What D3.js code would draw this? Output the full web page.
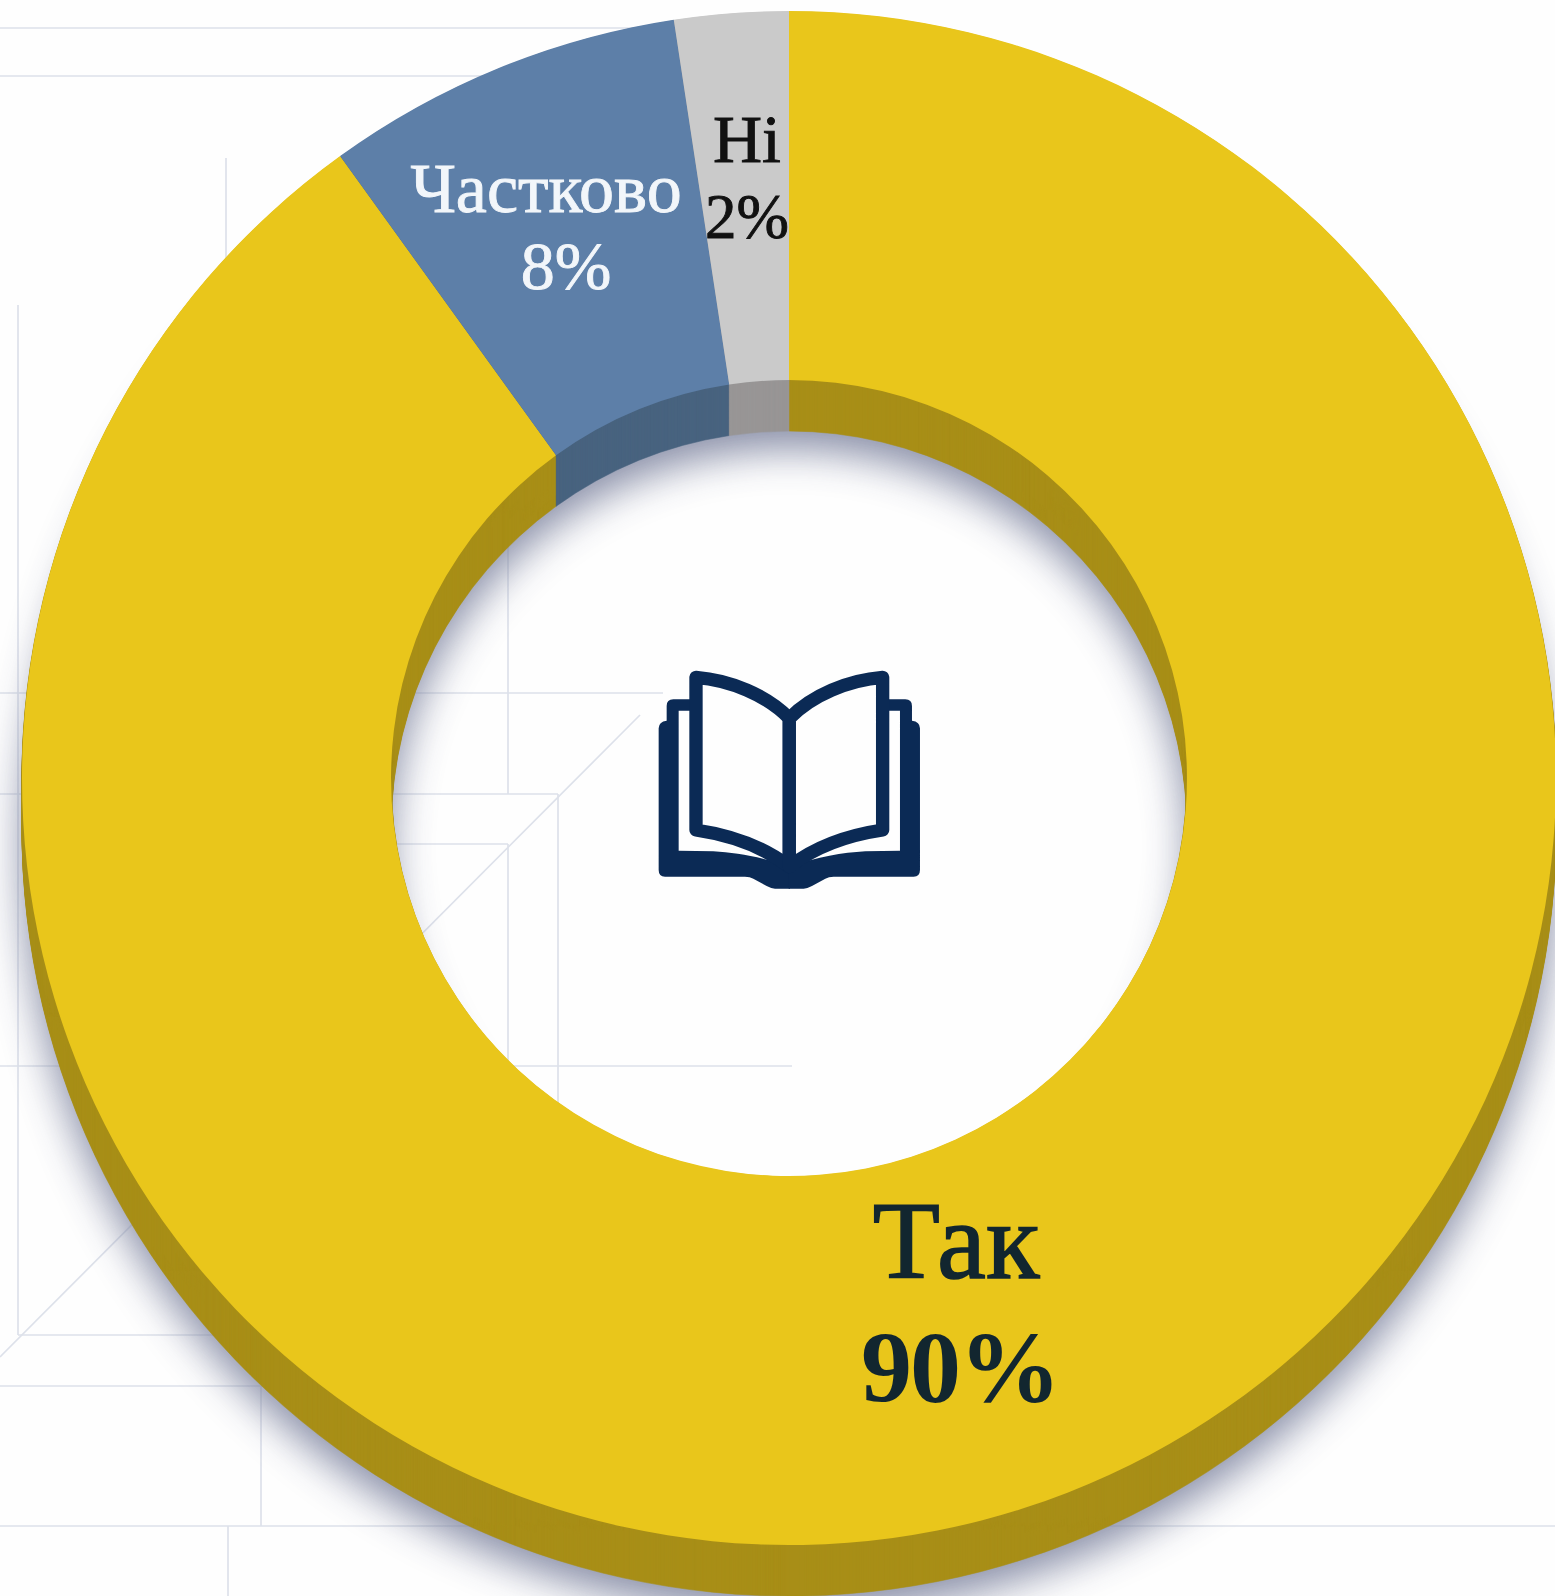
<!DOCTYPE html>
<html>
<head>
<meta charset="utf-8">
<script src="https://d3js.org/d3.v7.min.js"></script>
<style>
  html, body { margin: 0; padding: 0; background: #fff; overflow: hidden; }
  svg { display: block; }
  text { font-family: "Liberation Serif", serif; text-anchor: middle; }
</style>
</head>
<body>
<svg id="chart" width="1555" height="1596"></svg>
<script>
// data (slice sizes from the angles, labels are rounded)
var categories = ["Так", "Частково", "Ні"];
var values = [90.05, 7.55, 2.4];

// colours
var topColors = ["#e9c61b", "#5d7fa8", "#cacaca"];
var sideColors = ["#a88e17", "#48637f", "#989696"];
var labelColors = ["#12262f", "#f2f6fa", "#111111"];

var width = 1555,
  height = 1596,
  cx = 789,
  cy = 778,
  outerR = 767,
  innerR = 398,
  depth = 51;

var svg = d3.select("#chart");

svg.append("rect").attr("width", width).attr("height", height).attr("fill", "#fefefe");

// soft shadow under the ring
var defs = svg.append("defs");
defs
  .append("filter")
  .attr("id", "soft")
  .attr("x", "-10%")
  .attr("y", "-10%")
  .attr("width", "120%")
  .attr("height", "120%")
  .append("feGaussianBlur")
  .attr("stdDeviation", 20);

// faint construction lines behind the chart
var bgLines = [
  [0, 28, 700, 28],
  [0, 76, 700, 76],
  [0, 693, 663, 693],
  [0, 794, 558, 794],
  [300, 844, 508, 844],
  [0, 1066, 792, 1066],
  [18, 1335, 250, 1335],
  [0, 1386, 300, 1386],
  [0, 1526, 1555, 1526],
  [18, 305, 18, 1335],
  [226, 158, 226, 300],
  [228, 1526, 228, 1596],
  [261, 1386, 261, 1526],
  [508, 520, 508, 794],
  [508, 844, 508, 1080],
  [558, 794, 558, 1150],
  [640, 715, 0, 1357]
];

svg
  .append("g")
  .selectAll("line")
  .data(bgLines)
  .enter()
  .append("line")
  .attr("x1", (d) => d[0])
  .attr("y1", (d) => d[1])
  .attr("x2", (d) => d[2])
  .attr("y2", (d) => d[3])
  .attr("stroke", "#dde1ea")
  .attr("stroke-width", 1.7);

var pie = d3.pie().sort(null).startAngle(0).endAngle(2 * Math.PI);
var slices = pie(values);
var arc = d3.arc().innerRadius(innerR).outerRadius(outerR);
var ring = d3.arc().innerRadius(innerR).outerRadius(outerR).startAngle(0).endAngle(2 * Math.PI);

svg
  .append("path")
  .attr("d", ring())
  .attr("transform", "translate(" + cx + "," + (cy + depth + 18) + ")")
  .attr("fill", "#7d839f")
  .attr("opacity", 0.9)
  .attr("filter", "url(#soft)");

// side wall: the same slices stacked downward
d3.range(depth, 0, -1).forEach(function (dy) {
  svg
    .append("g")
    .attr("transform", "translate(" + cx + "," + (cy + dy) + ")")
    .selectAll("path")
    .data(slices)
    .enter()
    .append("path")
    .attr("d", arc)
    .attr("fill", (d, i) => sideColors[i])
    .attr("stroke", (d, i) => sideColors[i])
    .attr("stroke-width", 0.6);
});

// top face
svg
  .append("g")
  .attr("transform", "translate(" + cx + "," + cy + ")")
  .selectAll("path")
  .data(slices)
  .enter()
  .append("path")
  .attr("d", arc)
  .attr("fill", (d, i) => topColors[i]);

// labels
var pct = (v) => Math.round(v) + "%";
var labelPos = [
  { x: 956, y1: 1278, y2: 1402, x2: 960, s1: 110, s2: 102, w2: "bold", bold: 1.6 },
  { x: 546, y1: 212, y2: 289, x2: 566, s1: 70, s2: 68, w2: "normal", bold: 0.9 },
  { x: 747, y1: 162, y2: 238, s1: 68, s2: 63, w2: "normal", bold: 0.9 }
];

var labels = svg.append("g");
categories.forEach(function (name, i) {
  var p = labelPos[i];
  labels
    .append("text")
    .attr("x", p.x)
    .attr("y", p.y1)
    .attr("font-size", p.s1)
    .attr("fill", labelColors[i])
    .attr("stroke", labelColors[i])
    .attr("stroke-width", p.bold)
    .text(name);
  labels
    .append("text")
    .attr("x", p.x2 || p.x)
    .attr("y", p.y2)
    .attr("font-size", p.s2)
    .attr("font-weight", p.w2)
    .attr("fill", labelColors[i])
    .attr("stroke", labelColors[i])
    .attr("stroke-width", i === 0 ? 0 : p.bold)
    .attr("letter-spacing", i === 0 ? -2 : 0)
    .text(pct(values[i]));
});

// open book icon in the hole
var book = svg
  .append("g")
  .attr("transform", "translate(630,650) scale(0.3333)")
  .attr("fill", "#0b2a55");

var halves = [book.append("g"), book.append("g").attr("transform", "translate(956,0) scale(-1,1)")];
halves.forEach(function (half) {
  half
    .append("path")
    .attr(
      "d",
      "M480,716 L435,716 Q425,716 410,708 L370,686 Q360,680 345,680 L105,680 Q86,680 86,660 " +
        "L86,235 Q86,215 110,212 L110,168 Q110,148 130,148 L180,148 L180,182 L146,182 L146,602 " +
        "L250,604 C320,608 390,620 480,650 Z"
    );
  half
    .append("path")
    .attr("d", "M478,205 C410,135 300,90 198,82 L198,540 C300,555 400,590 478,650 Z")
    .attr("fill", "#fefefe")
    .attr("stroke", "#0b2a55")
    .attr("stroke-width", 40)
    .attr("stroke-linejoin", "round");
});
</script>
</body>
</html>
